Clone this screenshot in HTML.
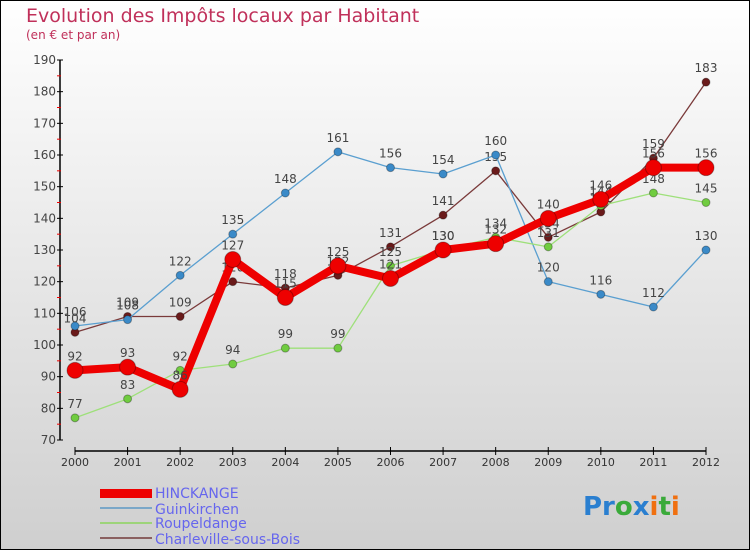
<!DOCTYPE html>
<html><head><meta charset="utf-8"><style>
body{margin:0;}
#c{width:750px;height:550px;position:relative;overflow:hidden;}
svg text{font-family:"DejaVu Sans","Liberation Sans",sans-serif;}
</style></head><body>
<div id="c">
<svg id="s" width="750" height="550" xmlns="http://www.w3.org/2000/svg">
<defs><linearGradient id="bg" x1="0" y1="0" x2="0" y2="1"><stop offset="0" stop-color="#ffffff"/><stop offset="1" stop-color="#cfcfcf"/></linearGradient></defs>
<rect x="0.5" y="0.5" width="749" height="549" fill="url(#bg)" stroke="#000"/>
<text x="26" y="22" font-size="19" fill="#c0305a">Evolution des Impôts locaux par Habitant</text>
<text x="26" y="39" font-size="12" fill="#c0305a">(en € et par an)</text>
<g id="axes"></g><g id="series"></g>
<g>
<rect x="100" y="489" width="52" height="9" fill="#ee0000"/>
<text x="155" y="498" font-size="14" fill="#6666ee">HINCKANGE</text>
<rect x="100" y="507" width="52" height="2" fill="#7aa7c8"/>
<text x="155" y="514" font-size="14" fill="#6666ee">Guinkirchen</text>
<rect x="100" y="522" width="52" height="2" fill="#9dd47a"/>
<text x="155" y="528" font-size="14" fill="#6666ee">Roupeldange</text>
<rect x="100" y="537" width="52" height="2" fill="#8a6060"/>
<text x="155" y="544" font-size="14" fill="#6666ee">Charleville-sous-Bois</text>
</g>
<g font-size="26" font-weight="bold">
<text x="583" y="515"><tspan fill="#2a7fd0">Pr</tspan><tspan fill="#3aaa3a">o</tspan><tspan fill="#2a7fd0">x</tspan><tspan fill="#f07010">i</tspan><tspan fill="#3aaa3a">t</tspan><tspan fill="#f07010">i</tspan></text>
</g>
</svg></div>
<script>
const years=[2000,2001,2002,2003,2004,2005,2006,2007,2008,2009,2010,2011,2012];
const hinckange=[92,93,86,127,115,125,121,130,132,140,146,156,156];
const guinkirchen=[106,108,122,135,148,161,156,154,160,120,116,112,130];
const roupeldange=[77,83,92,94,99,99,125,130,134,131,144,148,145];
const charleville=[104,109,109,120,118,122,131,141,155,134,142,159,183];
const yTicks=[70,80,90,100,110,120,130,140,150,160,170,180,190];
const NS="http://www.w3.org/2000/svg";
function X(i){return 75+i*(706-75)/(years.length-1);}
function Y(v){return 440-(v-70)*(380/120);}
function mk(t,a,p){const e=document.createElementNS(NS,t);for(const k in a)e.setAttribute(k,a[k]);p.appendChild(e);return e;}
const ax=document.getElementById('axes');
let yl=mk('line',{x1:60,y1:Y(190),x2:60,y2:Y(70),stroke:'#000','stroke-width':1.5},ax);


let xl=mk('line',{x1:75,y1:451,x2:706,y2:451,stroke:'#000','stroke-width':1.5},ax);


yTicks.forEach(v=>{
 mk('line',{x1:57,y1:Y(v),x2:63,y2:Y(v),stroke:'#000'},ax);
 if(v<190){const m=mk('line',{x1:57,y1:Y(v+5),x2:61,y2:Y(v+5),stroke:'#e00'},ax);}
 const t=mk('text',{x:56,y:Y(v)+4,'font-size':12,fill:'#444','text-anchor':'end'},ax);t.textContent=v;
 
 
});
years.forEach((y,i)=>{
 mk('line',{x1:X(i),y1:447,x2:X(i),y2:455,stroke:'#000'},ax);
 const t=mk('text',{x:X(i),y:466,'font-size':11,fill:'#333','text-anchor':'middle'},ax);t.textContent=y;
 
 
});
const sg=document.getElementById('series');
function draw(vals,name,color,dot,w,r){
 const g=mk('g',{},sg);
 
 
 const pl=mk('polyline',{points:vals.map((v,i)=>X(i)+','+Y(v)).join(' '),fill:'none',stroke:color,'stroke-width':w,'stroke-linejoin':'round'},g);
 
 
 vals.forEach((v,i)=>{
  const c=mk('circle',{cx:X(i),cy:Y(v),r:r,fill:dot,stroke:'rgba(0,0,0,0.3)','stroke-width':1},g);
  
  
  const t=mk('text',{x:X(i),y:Y(v)-10,'font-size':12,fill:'#444','text-anchor':'middle'},g);t.textContent=v;
  
  
 });
}
draw(charleville,'charleville','#7a3a3a','#6a1a1a',1.3,4);
draw(guinkirchen,'guinkirchen','#5a9fd0','#3a8ac8',1.3,4);
draw(roupeldange,'roupeldange','#9ee07a','#70cc40',1.3,4);
draw(hinckange,'hinckange','#ee0000','#ee0000',8,8);
</script>
</body></html>
